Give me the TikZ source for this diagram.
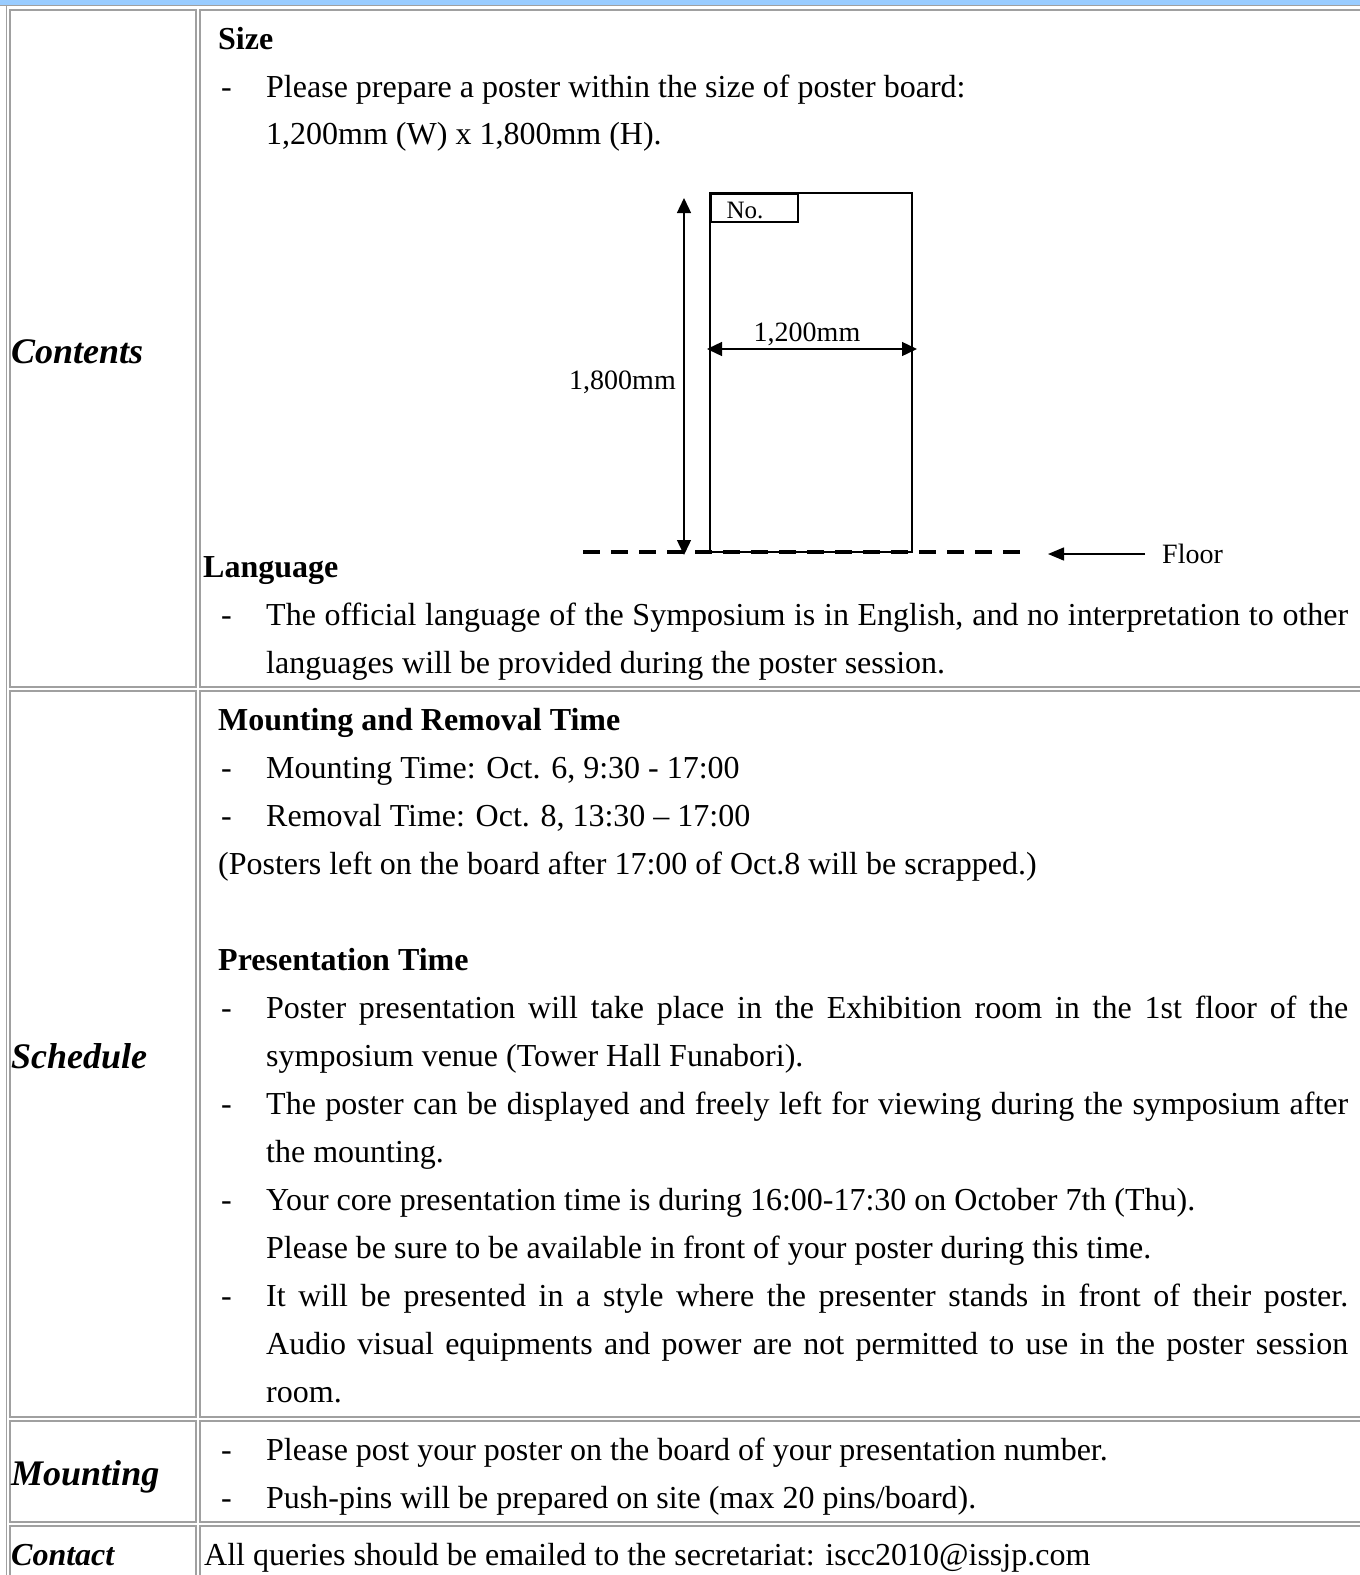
\documentclass[tikz,border=0pt]{standalone}
\usepackage{fontspec}
\setmainfont{Liberation Serif}
\usetikzlibrary{arrows.meta}
\definecolor{bordergray}{HTML}{A0A0A0}
\definecolor{bandblue}{HTML}{99CCFF}
\begin{document}
\begin{tikzpicture}[x=1pt,y=-1pt,
  cellbox/.style={draw=bordergray, line width=1.2pt},
  txt/.style={anchor=base west, inner sep=0pt, font=\fontsize{32}{48}\selectfont},
  hd/.style={anchor=base west, inner sep=0pt, font=\fontsize{32}{48}\selectfont\bfseries},
  lbl/.style={anchor=base west, inner sep=0pt, font=\fontsize{36}{40}\selectfont\bfseries\itshape},
  dimtxt/.style={inner sep=0pt, font=\fontsize{28}{32}\selectfont},
  dimarrow/.style={line width=1.4pt, {Triangle[length=15pt,width=14pt]}-{Triangle[length=15pt,width=14pt]}},
]
\useasboundingbox (0,0) rectangle (1360,1575);
\begin{scope}
\clip (0,0) rectangle (1360,1575);
% top band and outer frame
\fill[bandblue] (0,0) rectangle (1360,5);
\draw[bordergray, line width=1.2pt] (0,5.5) -- (1360,5.5);
\draw[bordergray, line width=1.2pt] (6.5,5.5) -- (6.5,1580);
% cells
\draw[cellbox] (10,10) rectangle (196,687);
\draw[cellbox] (200,10) rectangle (1370,687);
\draw[cellbox] (10,691) rectangle (196,1417);
\draw[cellbox] (200,691) rectangle (1370,1417);
\draw[cellbox] (10,1421) rectangle (196,1522);
\draw[cellbox] (200,1421) rectangle (1370,1522);
\draw[cellbox] (10,1526) rectangle (196,1590);
\draw[cellbox] (200,1526) rectangle (1370,1590);
\end{scope}

% left labels
\node[lbl] (lcont) at (11,363) {Contents};
\node[lbl] (lsched) at (11,1068) {Schedule};
\node[lbl] (lmount) at (11,1485) {Mounting};
\node[anchor=base west, inner sep=0pt, font=\fontsize{32}{40}\selectfont\bfseries\itshape] (lcontact) at (11,1565) {Contact};

% Contents cell
\node[hd] (size) at (218,49) {Size};
\node[txt] (d1) at (221,97) {-};
\node[txt] (c1) at (266,97) {Please prepare a poster within the size of poster board:};
\node[txt] (c2) at (266,144) {1,200mm (W) x 1,800mm (H).};

% poster diagram
\draw[line width=1.3pt] (710,193) rectangle (912,552);
\node[draw, line width=2pt, minimum width=87pt, minimum height=28pt, anchor=north west, inner sep=0pt] (nobox) at (710,193) {};
\node[inner sep=0pt, font=\fontsize{25}{30}\selectfont] (notxt) at (745,210) {No.};
\coordinate (vtop) at (684,198);
\coordinate (vbot) at (684,555);
\draw[dimarrow] (vtop) -- (vbot);
\node[dimtxt, anchor=east] (h18) at (676,382) {1,800mm};
\coordinate (hl) at (707,349);
\coordinate (hr) at (917,349);
\draw[dimarrow] (hl) -- (hr);
\node[dimtxt] (w12) at (807,334) {1,200mm};
\draw[line width=3.3pt, dash pattern=on 17pt off 11pt] (583,552) -- (1020,552);
\node[dimtxt, anchor=west] (floor) at (1162,554) {Floor};
\coordinate (fstart) at (1145,554);
\draw[line width=1.4pt, -{Triangle[length=16pt,width=13pt]}] (fstart) -- (1048,554);

\node[hd] (lang) at (203,577) {Language};
\node[txt] (d2) at (221,625) {-};
\node[txt] (c3) at (266,625) {\makebox[1082pt][s]{The official language of the Symposium is in English, and no interpretation to other}};
\node[txt] (c4) at (266,673) {languages will be provided during the poster session.};

% Schedule cell
\node[hd] (mrt) at (218,730) {Mounting and Removal Time};
\node[txt] (d3) at (221,778) {-};
\node[txt] (s1) at (266,778) {Mounting Time: Oct. 6, 9:30 - 17:00};
\node[txt] (d4) at (221,826) {-};
\node[txt] (s2) at (266,826) {Removal Time: Oct. 8, 13:30 – 17:00};
\node[txt] (s3) at (218,874) {(Posters left on the board after 17:00 of Oct.8 will be scrapped.)};
\node[hd] (pt) at (218,970) {Presentation Time};
\node[txt] (d5) at (221,1018) {-};
\node[txt] (s4) at (266,1018) {\makebox[1082pt][s]{Poster presentation will take place in the Exhibition room in the 1st floor of the}};
\node[txt] (s5) at (266,1066) {symposium venue (Tower Hall Funabori).};
\node[txt] (d6) at (221,1114) {-};
\node[txt] (s6) at (266,1114) {\makebox[1082pt][s]{The poster can be displayed and freely left for viewing during the symposium after}};
\node[txt] (s7) at (266,1162) {the mounting.};
\node[txt] (d7) at (221,1210) {-};
\node[txt] (s8) at (266,1210) {Your core presentation time is during 16:00-17:30 on October 7th (Thu).};
\node[txt] (s9) at (266,1258) {Please be sure to be available in front of your poster during this time.};
\node[txt] (d8) at (221,1306) {-};
\node[txt] (s10) at (266,1306) {\makebox[1082pt][s]{It will be presented in a style where the presenter stands in front of their poster.}};
\node[txt] (s11) at (266,1354) {\makebox[1082pt][s]{Audio visual equipments and power are not permitted to use in the poster session}};
\node[txt] (s12) at (266,1402) {room.};

% Mounting cell
\node[txt] (d9) at (221,1460) {-};
\node[txt] (m1) at (266,1460) {Please post your poster on the board of your presentation number.};
\node[txt] (d10) at (221,1508) {-};
\node[txt] (m2) at (266,1508) {Push-pins will be prepared on site (max 20 pins/board).};

% Contact cell
\node[txt] (ct) at (204,1565) {All queries should be emailed to the secretariat: iscc2010@issjp.com};
\end{tikzpicture}
\end{document}
